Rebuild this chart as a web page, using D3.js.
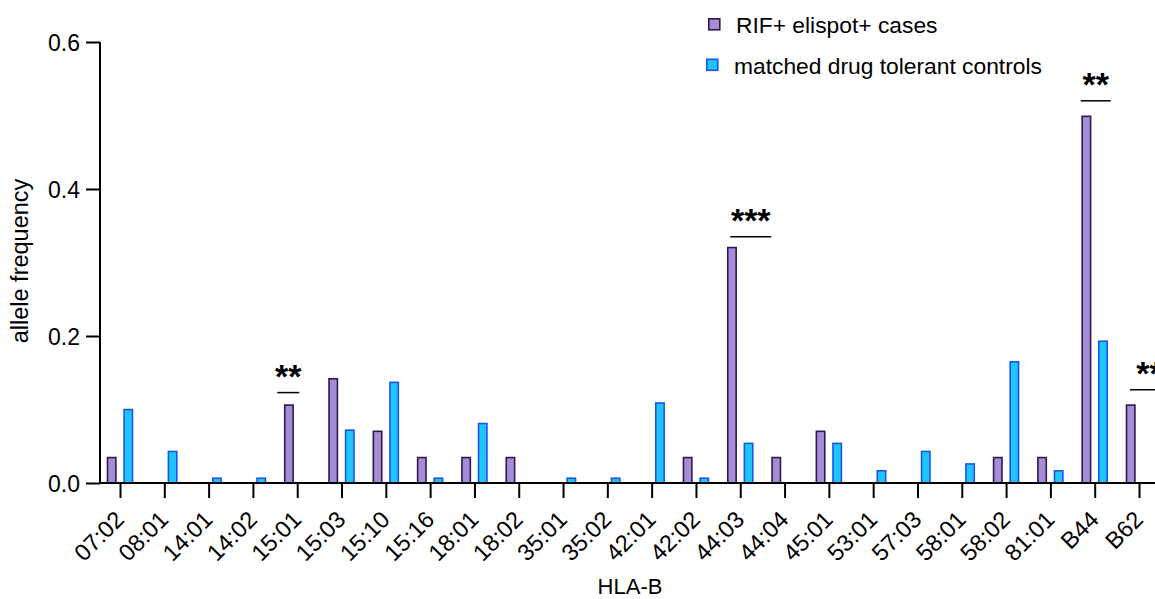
<!DOCTYPE html>
<html>
<head>
<meta charset="utf-8">
<script src="https://cdn.jsdelivr.net/npm/d3@7"></script>
<style>
  html, body { margin: 0; padding: 0; background: #ffffff; }
  svg { display: block; }
  text { font-family: "Liberation Sans", Arial, Helvetica, sans-serif; fill: #000; }
</style>
</head>
<body>
<svg id="chart" width="1155" height="599"></svg>
<script>
// ---- data ----
const categories = ["07:02","08:01","14:01","14:02","15:01","15:03","15:10","15:16","18:01","18:02",
  "35:01","35:02","42:01","42:02","44:03","44:04","45:01","53:01","57:03","58:01","58:02","81:01","B44","B62"];
const seriesNames = ["RIF+ elispot+ cases", "matched drug tolerant controls"];
const casesValues = [0.0357,0,0,0,0.1071,0.1429,0.0714,0.0357,0.0357,0.0357,
  0,0,0,0.0357,0.3214,0.0357,0.0714,0,0,0,0.0357,0.0357,0.5,0.1071];
const controlsValues = [0.101,0.044,0.0076,0.0076,0,0.073,0.138,0.0076,0.082,0,
  0.0076,0.0076,0.110,0.0076,0.055,0,0.055,0.0177,0.044,0.027,0.166,0.0177,0.194,0];
const yTicks = [0, 0.2, 0.4, 0.6];
const yLabel = "allele frequency";
const xLabel = "HLA-B";
const sigCategories = ["15:01", "44:03", "B44", "B62"];
const sigLabels = ["**", "***", "**", "**"];
const sigLevels = [0.123, 0.335, 0.52, 0.127];

// ---- layout / style ----
const W = 1155, H = 599;
const plot = { left: 100, top: 42, bottom: 483, xFirst: 120, xLast: 1139 };
const barW = 10, barOffset = 8.3;
const colors = {
  cases: { fill: "#a68bd6", stroke: "#2e1a4d" },
  controls: { fill: "#1ec6ff", stroke: "#1f55e6" }
};
// line extents relative to category tick (px)
const sigLineExtents = [[-20, 2], [-10, 31], [-14, 16], [-9, 30]];

const svg = d3.select("#chart");

const x = d3.scalePoint().domain(categories).range([plot.xFirst, plot.xLast]);
const y = d3.scaleLinear().domain([0, 0.6]).range([plot.bottom, plot.top]);

// bars
const rows = categories.map((c, i) => ({ c, cases: casesValues[i], controls: controlsValues[i] }));
const seriesDefs = [
  { key: "cases", off: -barOffset, col: colors.cases },
  { key: "controls", off: barOffset, col: colors.controls }
];
seriesDefs.forEach(s => {
  svg.append("g").selectAll("rect")
    .data(rows.filter(d => d[s.key] > 0))
    .join("rect")
    .attr("x", d => x(d.c) + s.off - barW / 2 + 0.8)
    .attr("y", d => y(d[s.key]) + 0.8)
    .attr("width", barW - 1.6)
    .attr("height", d => y(0) - y(d[s.key]) - 0.8)
    .attr("fill", s.col.fill)
    .attr("stroke", s.col.stroke)
    .attr("stroke-width", 1.6);
});

// y axis
const yAxis = d3.axisLeft(y).tickValues(yTicks).tickFormat(d3.format(".1f")).tickSize(14).tickPadding(6);
const gy = svg.append("g").attr("transform", `translate(${plot.left},0)`).call(yAxis);
gy.select(".domain").attr("stroke", "#000").attr("stroke-width", 2).attr("d", `M0,${plot.top}V${plot.bottom}`);
gy.selectAll(".tick line").attr("stroke", "#000").attr("stroke-width", 2);
gy.selectAll(".tick text").style("font-size", "23px").attr("font-family", null).attr("dy", "0.35em");

// x axis
const xAxis = d3.axisBottom(x).tickSize(15).tickPadding(0);
const gx = svg.append("g").attr("transform", `translate(0,${plot.bottom})`).call(xAxis);
gx.select(".domain").attr("stroke", "#000").attr("stroke-width", 2).attr("d", `M${plot.left},0H${W + 5}`);
gx.selectAll(".tick line").attr("stroke", "#000").attr("stroke-width", 2);
gx.selectAll(".tick text")
  .style("font-size", "23.5px").attr("font-family", null)
  .attr("text-anchor", "end")
  .attr("y", 0).attr("dy", 0)
  .attr("transform", "translate(5,38) rotate(-45)");

// axis titles
svg.append("text").attr("x", 630).attr("y", 594).attr("text-anchor", "middle")
  .style("font-size", "22px").text(xLabel);
svg.append("text").attr("transform", "translate(28,261) rotate(-90)").attr("text-anchor", "middle")
  .style("font-size", "23.5px").text(yLabel);

// significance annotations
sigCategories.forEach((c, i) => {
  const [a, b] = sigLineExtents[i];
  const ly = y(sigLevels[i]);
  svg.append("line")
    .attr("x1", x(c) + a).attr("x2", x(c) + b)
    .attr("y1", ly).attr("y2", ly)
    .attr("stroke", "#000").attr("stroke-width", 1.5);
  svg.append("text")
    .attr("x", x(c) + (a + b) / 2)
    .attr("y", ly - 5)
    .attr("text-anchor", "middle")
    .style("font-size", "34px").style("font-weight", "bold")
    .text(sigLabels[i]);
});

// legend
const legendItems = [
  { name: seriesNames[0], col: colors.cases, sx: 708, sy: 18, tx: 736, ty: 32.5 },
  { name: seriesNames[1], col: colors.controls, sx: 706, sy: 58.5, tx: 734, ty: 73.5 }
];
const lg = svg.append("g");
legendItems.forEach(it => {
  lg.append("rect").attr("x", it.sx + 0.8).attr("y", it.sy + 0.8).attr("width", 11).attr("height", 11)
    .attr("fill", it.col.fill).attr("stroke", it.col.stroke).attr("stroke-width", 1.6);
  lg.append("text").attr("x", it.tx).attr("y", it.ty).style("font-size", "22.8px").text(it.name);
});
</script>
</body>
</html>
